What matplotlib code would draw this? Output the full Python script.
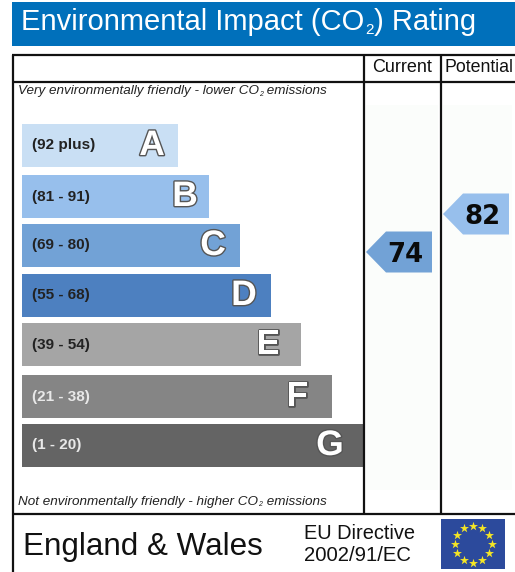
import matplotlib
matplotlib.use('Agg')
import matplotlib.pyplot as plt
import matplotlib.patheffects as pe
import numpy as np

plt.rcParams['font.family'] = ['Liberation Sans', 'DejaVu Sans']

# chart data
bands = ['A', 'B', 'C', 'D', 'E', 'F', 'G']
ranges = ['(92 plus)', '(81 - 91)', '(69 - 80)', '(55 - 68)', '(39 - 54)', '(21 - 38)', '(1 - 20)']
bar_lengths = [156, 187, 218, 249, 279, 310, 341]
current_rating = 74
potential_rating = 82
columns = ['Current', 'Potential']

# styling
bar_colors = ['#c9dff4', '#97bfec', '#72a2d6', '#4d80c0', '#a5a5a5', '#858585', '#646464']
range_colors = ['#222222'] * 5 + ['#e8e8e8', '#e8e8e8']
bar_tops = [124, 175, 224, 274, 323, 375, 424]
bar_height = 43
letter_offsets = [26, 24, 27, 27, 33, 35, 33]


def rating_y(r):
    # arrow height in pixels for a rating
    return 252 - (r - 74) * 4.75


fig = plt.figure(figsize=(5.15, 5.72), dpi=100)
ax = fig.add_axes([0, 0, 1, 1])
ax.set_xlim(0, 515)
ax.set_ylim(572, 0)
ax.axis('off')
renderer = fig.canvas.get_renderer()


def co2_text(x, y, before, after, size, sub_size, sub_drop, gap, **kw):
    # text with a small subscript 2, pieces placed one after the other
    t = ax.text(x, y, before, fontsize=size, ha='left', va='baseline', **kw)
    x = t.get_window_extent(renderer).x1 + 0.5
    t = ax.text(x, y + sub_drop, '2', fontsize=sub_size, ha='left', va='baseline', **kw)
    x = t.get_window_extent(renderer).x1 + gap
    ax.text(x, y, after, fontsize=size, ha='left', va='baseline', **kw)


# header
ax.barh(24, 503, height=44, left=12, color='#0070bb')
co2_text(21, 30.5, 'Environmental Impact (CO', ') Rating', 21, 11, 3, 0.5, color='white')

# pale panels of the two rating columns
ax.barh(297, 72, height=385, left=366, color='#fbfdfb')
ax.barh(297, 69, height=385, left=443, color='#fbfdfb')

# frame
line = dict(color='#111111', lw=1.6, solid_capstyle='butt')
ax.plot([12, 515], [55, 55], **line)
ax.plot([12, 515], [81.5, 81.5], **line)
ax.plot([12, 515], [514, 514], **line)
ax.plot([12.5, 12.5], [55, 572], **line)
ax.plot([363.5, 363.5], [55, 514], **line)
ax.plot([440.5, 440.5], [55, 514], **line)

ax.text(402, 68, columns[0], fontsize=13, ha='center', va='center', color='#111111')
ax.text(479, 68, columns[1], fontsize=12.8, ha='center', va='center', color='#111111')

co2_text(18, 94, 'Very environmentally friendly - lower CO', ' emissions', 9.7, 5, 1.5, 0,
         style='italic', color='#222222')
co2_text(18, 505, 'Not environmentally friendly - higher CO', ' emissions', 9.7, 5, 1.5, 0.5,
         style='italic', color='#222222')

# bands
for i, band in enumerate(bands):
    yc = bar_tops[i] + bar_height / 2
    ax.barh(yc, bar_lengths[i], height=bar_height, left=22, color=bar_colors[i])
    ax.text(32, yc, ranges[i], fontsize=11, fontweight='bold', ha='left', va='center',
            color=range_colors[i])
    t = ax.text(22 + bar_lengths[i] - letter_offsets[i], yc, band, fontsize=25.5, fontweight='bold',
                ha='center', va='center', color='white')
    t.set_path_effects([pe.withStroke(linewidth=2, foreground='#555555')])

# rating arrows
for r, x0, x1, col in [(current_rating, 366, 432, '#72a2d6'), (potential_rating, 443, 509, '#97bfec')]:
    y = rating_y(r)
    ax.fill([x0, x0 + 20, x1, x1, x0 + 20], [y, y - 20.5, y - 20.5, y + 20.5, y + 20.5], color=col, lw=0)
    ax.text(x0 + 39, y + 2.5, str(r), fontsize=18.7, fontweight='bold', family='DejaVu Sans',
            ha='center', va='center', color='#0a0a0a')

# footer
ax.text(23, 555, 'England & Wales', fontsize=22.6, ha='left', va='baseline', color='#111111')
ax.text(304, 539, 'EU Directive', fontsize=14.4, ha='left', va='baseline', color='#111111')
ax.text(304, 561, '2002/91/EC', fontsize=14.6, ha='left', va='baseline', color='#111111')

# EU flag
ax.barh(544, 64, height=50, left=441, color='#2c4a9c')
ang = np.arange(12) * np.pi / 6
ax.scatter(473 + 18.5 * np.cos(ang), 544 + 18.5 * np.sin(ang), marker='*', s=46, color='#f5e625', lw=0, zorder=3)

fig.savefig('out.png', dpi=100)
